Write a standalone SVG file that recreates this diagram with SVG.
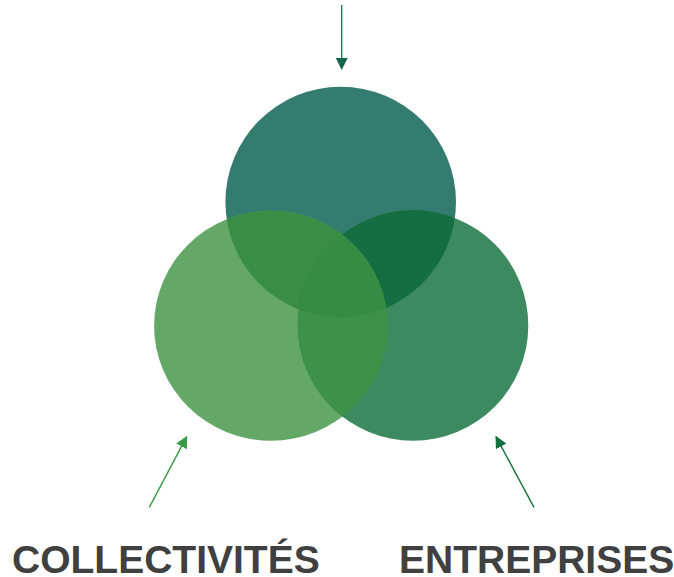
<svg xmlns="http://www.w3.org/2000/svg" width="674" height="577" viewBox="0 0 674 577">
  <style>
    .lbl { font-family: "Liberation Sans", Arial, sans-serif; font-weight: bold; font-size: 39px; fill: #404040; }
    .conn { fill: none; stroke-width: 1.4; }
  </style>
  <defs>
    <clipPath id="clipT"><circle cx="340.7" cy="202" r="115.3"/></clipPath>
    <clipPath id="clipL"><ellipse cx="270.9" cy="325.7" rx="116.8" ry="115"/></clipPath>
    <clipPath id="clipR"><circle cx="413" cy="325.4" r="115.3"/></clipPath>
    <marker id="arrT" viewBox="0 0 12 12" refX="11" refY="6" markerWidth="12" markerHeight="12" markerUnits="userSpaceOnUse" orient="auto">
      <path d="M0,0 L12,6 L0,12 Z" fill="#13654F"/>
    </marker>
    <marker id="arrL" viewBox="0 0 12 12" refX="11" refY="6" markerWidth="12" markerHeight="12" markerUnits="userSpaceOnUse" orient="auto">
      <path d="M0,0 L12,6 L0,12 Z" fill="#3A9A44"/>
    </marker>
    <marker id="arrR" viewBox="0 0 12 12" refX="11" refY="6" markerWidth="12" markerHeight="12" markerUnits="userSpaceOnUse" orient="auto">
      <path d="M0,0 L12,6 L0,12 Z" fill="#14713E"/>
    </marker>
  </defs>

  <g id="node-top">
    <circle cx="340.7" cy="202" r="115.3" fill="#347C6F"/>
  </g>
  <g id="node-collectivites">
    <ellipse cx="270.9" cy="325.7" rx="116.8" ry="115" fill="#63A866"/>
  </g>
  <g id="node-entreprises">
    <circle cx="413" cy="325.4" r="115.3" fill="#3E8A60"/>
  </g>
  <g id="overlaps">
    <g clip-path="url(#clipT)">
      <ellipse cx="270.9" cy="325.7" rx="116.8" ry="115" fill="#3A8D44"/>
      <circle cx="413" cy="325.4" r="115.3" fill="#146E42"/>
    </g>
    <g clip-path="url(#clipL)">
      <circle cx="413" cy="325.4" r="115.3" fill="#3D9149"/>
      <g clip-path="url(#clipT)">
        <circle cx="413" cy="325.4" r="115.3" fill="#368C42"/>
      </g>
    </g>
  </g>

  <g id="connectors">
    <line class="conn" x1="341.7" y1="5" x2="341.7" y2="69" stroke="#2A7A66" marker-end="url(#arrT)"/>
    <line class="conn" x1="149.3" y1="507.3" x2="186.7" y2="436.7" stroke="#3A9A44" marker-end="url(#arrL)"/>
    <line class="conn" x1="534" y1="507.3" x2="496" y2="436.7" stroke="#14713E" marker-end="url(#arrR)"/>
  </g>

  <g id="labels">
    <text class="lbl" x="12" y="572.5">COLLECTIVITÉS</text>
    <text class="lbl" x="399" y="572.5">ENTREPRISES</text>
  </g>
</svg>
